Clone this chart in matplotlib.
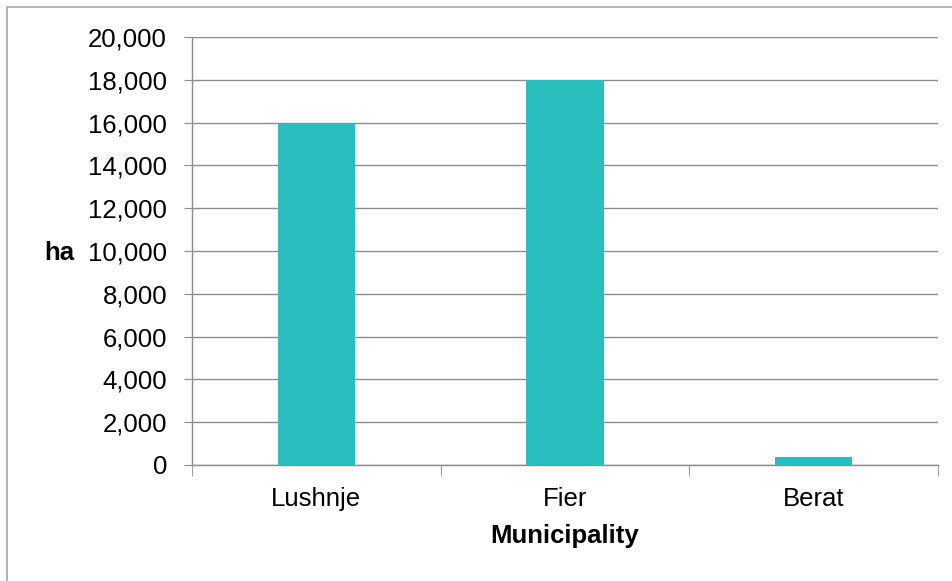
import matplotlib.pyplot as plt
from matplotlib.patches import Rectangle
from matplotlib.ticker import FuncFormatter

# Данные
municipalities = ['Lushnje', 'Fier', 'Berat']
area_ha = [16000, 18000, 350]
y_ticks = list(range(0, 20001, 2000))

plt.rcParams['font.family'] = ['Liberation Sans', 'DejaVu Sans']
plt.rcParams['font.size'] = 18.5

fig = plt.figure(figsize=[9.53, 5.81], dpi=100)
ax = fig.add_axes([0.2015, 0.1997, 0.7828, 0.7366])

# Рамка вокруг всей картинки (обрезана справа и снизу)
fig.patches.append(Rectangle((7 / 953, -0.5), 2, 1.5 - 7 / 581, transform=fig.transFigure,
                             fill=False, edgecolor='#a6a6a6', linewidth=1.2))

x = list(range(len(municipalities)))
ax.bar(x, area_ha, width=0.31, color='#2abfbf', zorder=3)

ax.set_xlim(-0.5, len(municipalities) - 0.5)
ax.set_ylim(0, 20000)
ax.set_yticks(y_ticks)
ax.yaxis.set_major_formatter(FuncFormatter(lambda v, p: f'{int(v):,}'))
ax.grid(axis='y', color='#8c8c8c', linewidth=1.0, zorder=0)

ax.set_xticks(x)
ax.set_xticklabels(municipalities)
ax.set_xticks([-0.5, 0.5, 1.5, 2.5], minor=True)
ax.tick_params(axis='x', which='major', length=0, pad=16)
ax.tick_params(axis='x', which='minor', length=8, color='#8c8c8c', direction='out')
ax.tick_params(axis='y', length=6, color='#8c8c8c', pad=12)

for side in ['top', 'right']:
    ax.spines[side].set_visible(False)
for side in ['left', 'bottom']:
    ax.spines[side].set_color('#8c8c8c')
    ax.spines[side].set_linewidth(1.0)

ax.set_xlabel('Municipality', fontweight='bold', labelpad=9)
ax.set_ylabel('ha', fontweight='bold', rotation=0, ha='center', va='center')
ax.yaxis.set_label_coords(-0.178, 0.495)

fig.savefig('out.png', dpi=100)
